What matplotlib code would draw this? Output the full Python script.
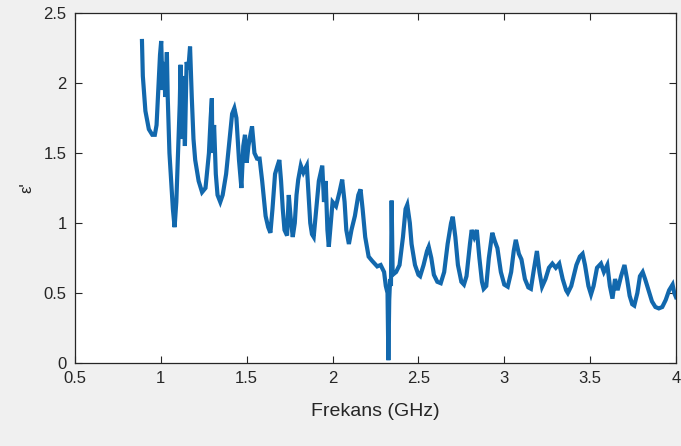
import matplotlib
matplotlib.use("Agg")
import matplotlib.pyplot as plt

freq = [0.89, 0.895, 0.91, 0.93, 0.95, 0.965, 0.975, 0.985, 0.995, 1.002, 1.01, 1.02, 1.025, 1.035, 1.04,
        1.05, 1.06, 1.07, 1.08, 1.09, 1.10, 1.11, 1.115, 1.12, 1.13, 1.14, 1.15, 1.16, 1.17, 1.18, 1.19,
        1.20, 1.22, 1.24, 1.26, 1.28, 1.29, 1.297, 1.30, 1.31, 1.32, 1.33, 1.346, 1.36, 1.38, 1.40, 1.415,
        1.428, 1.44, 1.455, 1.469, 1.48, 1.49, 1.50, 1.51, 1.52, 1.531, 1.545, 1.56, 1.575, 1.59, 1.61,
        1.625, 1.638, 1.65, 1.665, 1.677, 1.69, 1.70, 1.71, 1.72, 1.735, 1.745, 1.755, 1.768, 1.78, 1.79,
        1.80, 1.815, 1.83, 1.85, 1.86, 1.87, 1.88, 1.89, 1.905, 1.92, 1.94, 1.95, 1.96, 1.97, 1.978, 1.99,
        2.00, 2.02, 2.04, 2.056, 2.07, 2.08, 2.095, 2.11, 2.13, 2.15, 2.163, 2.175, 2.19, 2.21, 2.23, 2.26,
        2.28, 2.30, 2.31, 2.32, 2.325, 2.33, 2.335, 2.34, 2.344, 2.35, 2.37, 2.39, 2.41, 2.425, 2.435, 2.45,
        2.46, 2.48, 2.50, 2.51, 2.53, 2.55, 2.56, 2.575, 2.59, 2.61, 2.63, 2.65, 2.67, 2.69, 2.70, 2.715,
        2.73, 2.75, 2.765, 2.78, 2.80, 2.81, 2.825, 2.84, 2.855, 2.87, 2.88, 2.895, 2.91, 2.93, 2.945, 2.96,
        2.98, 3.00, 3.02, 3.04, 3.055, 3.067, 3.085, 3.10, 3.12, 3.14, 3.155, 3.17, 3.19, 3.205, 3.22, 3.24,
        3.26, 3.28, 3.30, 3.32, 3.34, 3.36, 3.37, 3.39, 3.42, 3.44, 3.456, 3.47, 3.49, 3.505, 3.52, 3.54,
        3.563, 3.58, 3.60, 3.615, 3.63, 3.645, 3.66, 3.68, 3.70, 3.715, 3.73, 3.745, 3.757, 3.775, 3.79,
        3.806, 3.82, 3.84, 3.86, 3.88, 3.90, 3.92, 3.94, 3.96, 3.98, 3.99, 4.00]

eps_real = [2.30, 2.05, 1.80, 1.67, 1.63, 1.63, 1.70, 1.95, 2.20, 2.30, 1.95, 2.15, 1.90, 2.22, 1.90,
            1.50, 1.30, 1.10, 0.97, 1.15, 1.50, 1.85, 2.13, 1.60, 2.05, 1.55, 2.15, 2.10, 2.26, 1.90, 1.60,
            1.45, 1.30, 1.22, 1.25, 1.50, 1.75, 1.89, 1.50, 1.70, 1.35, 1.20, 1.15, 1.20, 1.35, 1.60, 1.78,
            1.82, 1.75, 1.45, 1.25, 1.55, 1.63, 1.43, 1.55, 1.62, 1.69, 1.50, 1.46, 1.46, 1.30, 1.05,
            0.97, 0.93, 1.10, 1.35, 1.40, 1.45, 1.30, 1.10, 0.95, 0.91, 1.20, 1.05, 0.90, 1.00, 1.20,
            1.31, 1.41, 1.36, 1.41, 1.20, 1.00, 0.92, 0.90, 1.10, 1.30, 1.41, 1.15, 1.30, 0.95, 0.83, 1.00,
            1.15, 1.12, 1.22, 1.31, 1.15, 0.95, 0.85, 0.95, 1.05, 1.20, 1.24, 1.10, 0.90, 0.76, 0.73, 0.69,
            0.70, 0.65, 0.55, 0.50, 0.02, 0.45, 0.60, 0.55, 1.16, 0.63, 0.65, 0.70, 0.90, 1.10, 1.13, 1.00,
            0.85, 0.70, 0.63, 0.62, 0.70, 0.80, 0.83, 0.75, 0.63, 0.58, 0.57, 0.65, 0.85, 1.00, 1.045, 0.90,
            0.70, 0.58, 0.56, 0.62, 0.85, 0.95, 0.90, 0.95, 0.75, 0.58, 0.53, 0.55, 0.75, 0.93, 0.87, 0.82,
            0.65, 0.56, 0.545, 0.65, 0.80, 0.88, 0.78, 0.74, 0.60, 0.54, 0.53, 0.65, 0.80, 0.65, 0.545, 0.60,
            0.68, 0.71, 0.68, 0.71, 0.60, 0.52, 0.50, 0.55, 0.70, 0.76, 0.78, 0.70, 0.55, 0.49, 0.55, 0.68,
            0.71, 0.65, 0.70, 0.55, 0.46, 0.60, 0.52, 0.62, 0.70, 0.60, 0.48, 0.42, 0.41, 0.50, 0.62,
            0.65, 0.60, 0.52, 0.44, 0.40, 0.39, 0.40, 0.45, 0.52, 0.56, 0.50, 0.47]

xticks = [0.5, 1, 1.5, 2, 2.5, 3, 3.5, 4]
xtick_labels = ["0.5", "1", "1.5", "2", "2.5", "3", "3.5", "4"]
yticks = [0, 0.5, 1, 1.5, 2, 2.5]
ytick_labels = ["0", "0.5", "1", "1.5", "2", "2.5"]

plt.rcParams['font.family'] = ['Liberation Sans', 'DejaVu Sans']

fig = plt.figure(figsize=(6.81, 4.46), dpi=100, facecolor='#f0f0f0')
ax = fig.add_axes([75/681, 1 - 363/446, (676 - 75)/681, (363 - 13)/446])
ax.set_facecolor('white')
ax.plot(freq, eps_real, color='#1268ad', linewidth=3.0, solid_joinstyle='miter')
ax.set_xlim(0.5, 4)
ax.set_ylim(0, 2.5)
ax.set_xticks(xticks)
ax.set_xticklabels(xtick_labels)
ax.set_yticks(yticks)
ax.set_yticklabels(ytick_labels)
ax.tick_params(direction='in', length=5, width=0.8, colors='#262626', labelsize=12,
               top=True, right=True, labelcolor='#262626')
ax.tick_params(axis='x', pad=6)
ax.tick_params(axis='y', pad=6)
for s in ax.spines.values():
    s.set_color('#262626')
    s.set_linewidth(0.9)
ax.set_xlabel('Frekans (GHz)', fontsize=14, color='#262626', labelpad=12)
ax.set_ylabel("\u03b5'", fontsize=12, color='#262626')
ax.yaxis.set_label_coords(-0.068, 0.5)

fig.savefig('out.png', dpi=100, facecolor=fig.get_facecolor())
